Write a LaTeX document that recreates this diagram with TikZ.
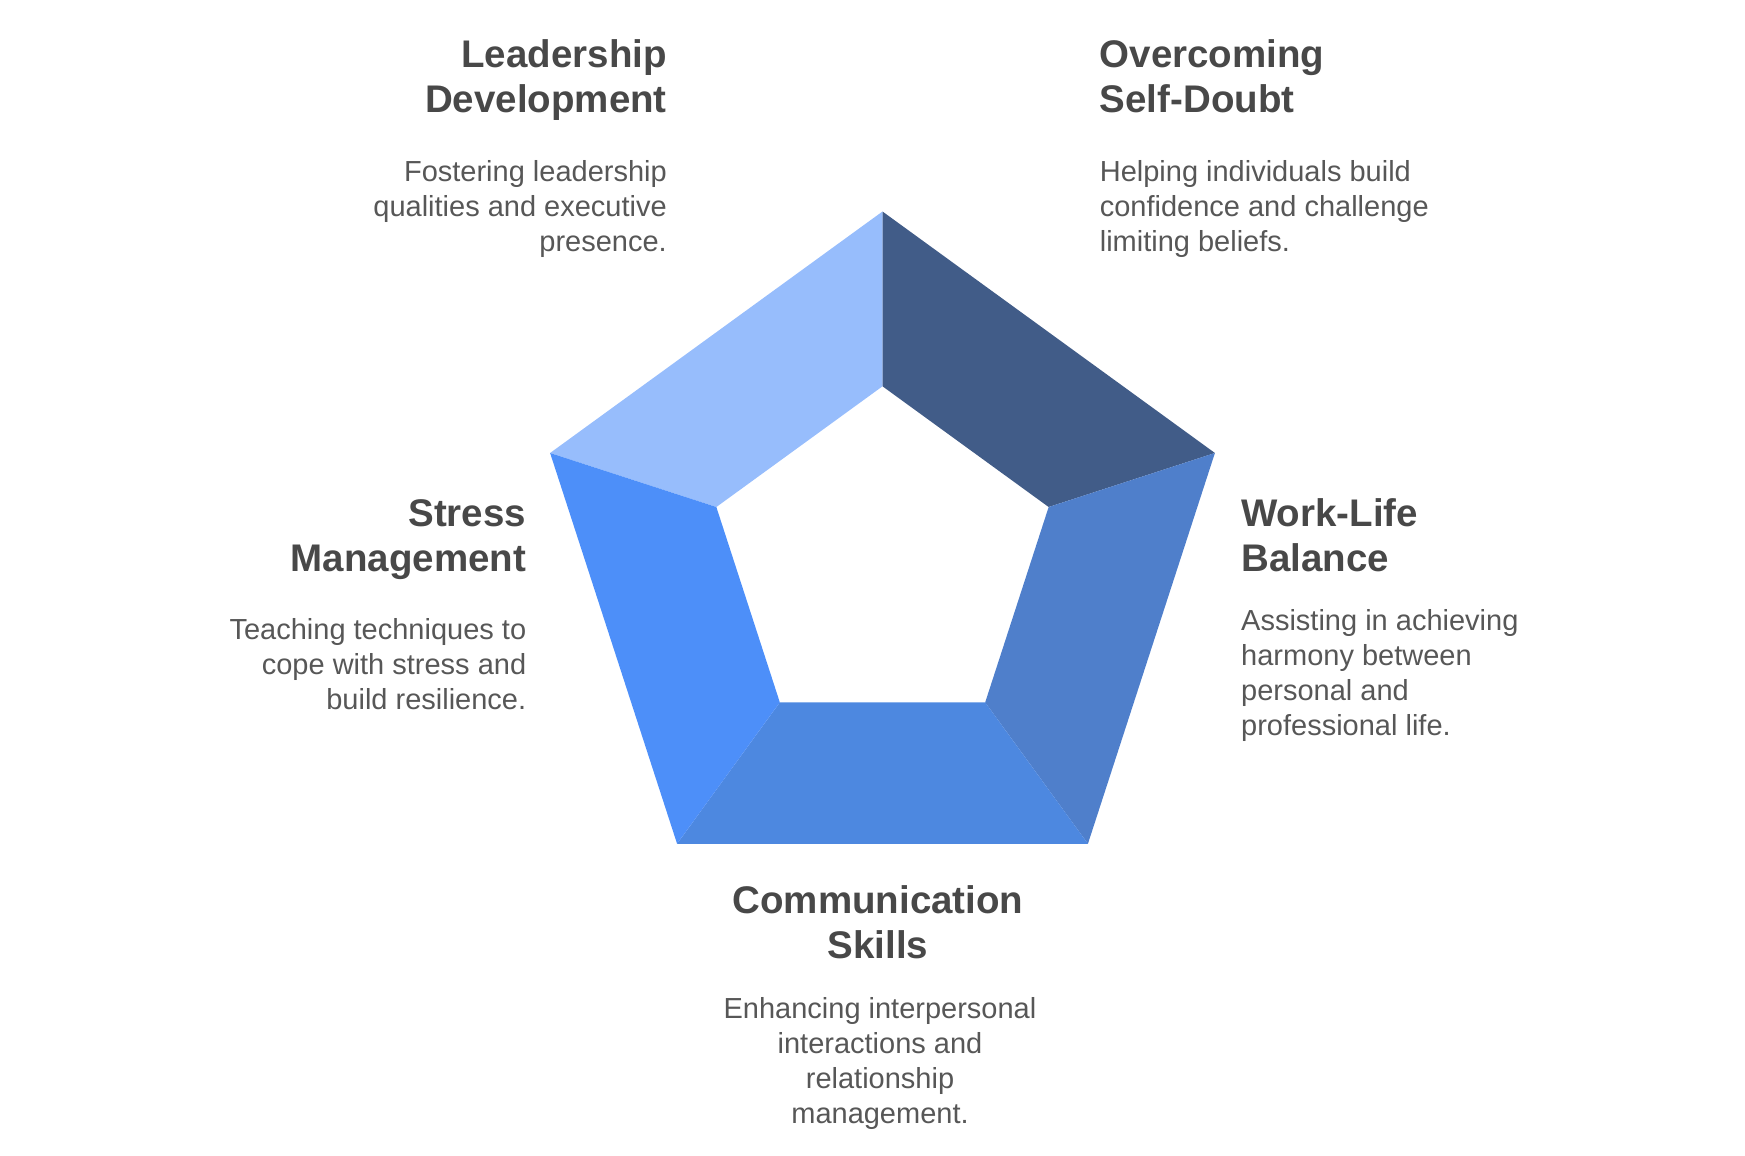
\documentclass[tikz,border=0pt]{standalone}
\usepackage{fontspec}
\setmainfont{Liberation Sans}
\definecolor{ttl}{HTML}{484848}
\definecolor{dsc}{HTML}{575757}
\definecolor{segTL}{HTML}{97BDFC}
\definecolor{segTR}{HTML}{415C88}
\definecolor{segR}{HTML}{4F7FCB}
\definecolor{segB}{HTML}{4D88E0}
\definecolor{segL}{HTML}{4D8FF9}
\begin{document}
\begin{tikzpicture}[x=1pt,y=-1pt,
  titlebox/.style={inner sep=0pt, text=ttl, font={\fontsize{38.5}{45}\selectfont\bfseries}},
  descbox/.style={inner sep=0pt, text=dsc, font={\fontsize{29}{35}\selectfont}}]
\useasboundingbox (0,0) rectangle (1745,1156);
\begin{scope}[shift={(882.5,561)}]
  \coordinate (OT) at (-90:349.5);
  \coordinate (OR) at (-18:349.5);
  \coordinate (OBR) at (54:349.5);
  \coordinate (OBL) at (126:349.5);
  \coordinate (OL) at (198:349.5);
  \coordinate (IT) at (-90:174.7);
  \coordinate (IR) at (-18:174.7);
  \coordinate (IBR) at (54:174.7);
  \coordinate (IBL) at (126:174.7);
  \coordinate (IL) at (198:174.7);
\end{scope}
\fill[segTL] (OT) -- (OL) -- (IL) -- (IT) -- cycle;
\fill[segTR] (OT) -- (OR) -- (IR) -- (IT) -- cycle;
\fill[segR] (OR) -- (OBR) -- (IBR) -- (IR) -- cycle;
\fill[segB] (OBR) -- (OBL) -- (IBL) -- (IBR) -- cycle;
\fill[segL] (OBL) -- (OL) -- (IL) -- (IBL) -- cycle;

% base anchor = baseline of the last line
\node[titlebox, anchor=base east, align=right] (ldT) at (667,112.5) {Leadership\\Development};
\node[descbox, anchor=base east, align=right] (ldD) at (667,251) {Fostering leadership\\qualities and executive\\presence.};

\node[titlebox, anchor=base west, align=left] (osT) at (1099.6,112.5) {Overcoming\\Self-Doubt};
\node[descbox, anchor=base west, align=left] (osD) at (1099.6,251) {Helping individuals build\\confidence and challenge\\limiting beliefs.};

\node[titlebox, anchor=base east, align=right] (smT) at (526.4,571.5) {Stress\\Management};
\node[descbox, anchor=base east, align=right] (smD) at (526.4,709) {Teaching techniques to\\cope with stress and\\build resilience.};

\node[titlebox, anchor=base west, align=left] (wlT) at (1241,571.5) {Work-Life\\Balance};
\node[descbox, anchor=base west, align=left] (wlD) at (1241,735) {Assisting in achieving\\harmony between\\personal and\\professional life.};

\node[titlebox, anchor=base, align=center] (csT) at (878,958) {Communication\\Skills};
\node[descbox, anchor=base, align=center] (csD) at (880,1123) {Enhancing interpersonal\\interactions and\\relationship\\management.};
\end{tikzpicture}
\end{document}
